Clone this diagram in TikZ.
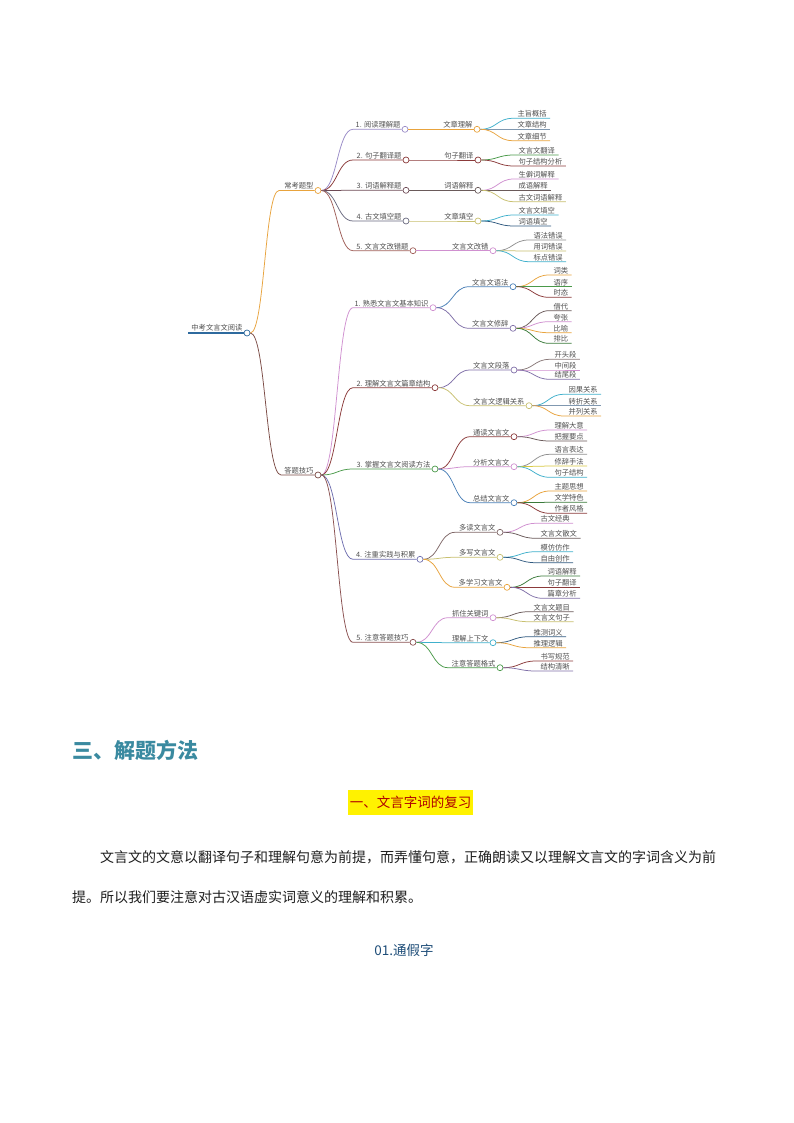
\documentclass[tikz,border=0pt]{standalone}
\usepackage{fontspec}
\newfontfamily\cjk{Noto Sans CJK SC}
\usetikzlibrary{calc}
\definecolor{rootblue}{HTML}{2E6A9E}
\definecolor{corange}{HTML}{E8A33D}
\definecolor{cbrown}{HTML}{7B4B45}
\definecolor{clav}{HTML}{9A8CC8}
\definecolor{cdred}{HTML}{8B3A3A}
\definecolor{cmaroon}{HTML}{6E4A55}
\definecolor{cslate}{HTML}{6A6A80}
\definecolor{crust}{HTML}{A0605A}
\definecolor{cpink}{HTML}{D090D0}
\definecolor{cgreen}{HTML}{4A9A4A}
\definecolor{cpurp}{HTML}{7070B0}
\definecolor{cbrown2}{HTML}{8A5050}
\definecolor{ccyan}{HTML}{40B0CC}
\definecolor{cgblue}{HTML}{8098B0}
\definecolor{colive}{HTML}{C8C070}
\definecolor{cdkblue}{HTML}{305A80}
\definecolor{cgrey}{HTML}{909090}
\definecolor{cblue}{HTML}{4A80B8}
\definecolor{cpurp2}{HTML}{8070A8}
\definecolor{cdkgrey}{HTML}{6A5A5A}
\definecolor{cyellow}{HTML}{D8C840}
\definecolor{cdkgreen}{HTML}{3A7A3A}
\definecolor{ctaupe}{HTML}{8A7A7A}
\definecolor{cgbrown}{HTML}{806868}
\definecolor{mmgray}{HTML}{505050}
\definecolor{titleteal}{HTML}{3A8AA0}
\definecolor{hdred}{HTML}{B00000}
\definecolor{subblue}{HTML}{1F4E79}
\tikzset{
  mmtext/.style={font=\cjk\fontsize{7.3}{8}\selectfont, text=mmgray, inner xsep=0.3pt, inner ysep=0.8pt},
  mmcirc/.style={circle, fill=white, line width=0.7pt, minimum size=6pt, inner sep=0pt},
  mmlink/.style={line width=0.75pt},
  bodytext/.style={font=\cjk\fontsize{14}{16}\selectfont, text=black!88, inner sep=0pt, anchor=west}
}
% inner node: name, parent, start x, y, circle x, colour, text
\newcommand\mmnode[7]{%
  \coordinate (#1-s) at (#3,#4);
  \node[mmcirc, draw=#6] (#1) at (#5,#4) {};
  \draw[mmlink,#6] let \p1=(#2.east), \p2=(#1-s) in
    (\p1) .. controls ({(\x1+\x2)/2},\y1) and ({(\x1+\x2)/2},\y2) .. (\p2) -- (#1.west);
  \node[mmtext, anchor=south east] (#1-t) at ([xshift=-4pt]#1.center) {#7};
}
% leaf: name, parent, start x, y, colour, text
\newcommand\mmleaf[6]{%
  \coordinate (#1-s) at (#3,#4);
  \node[mmtext, anchor=south west] (#1) at (#3+4,#4) {#6};
  \coordinate (#1-e) at ([xshift=3pt]#1.south east);
  \draw[mmlink,#5] let \p1=(#2.east), \p2=(#1-s) in
    (\p1) .. controls ({(\x1+\x2)/2},\y1) and ({(\x1+\x2)/2},\y2) .. (\p2) -- (#1-e);
}
\begin{document}
\begin{tikzpicture}[x=1pt,y=-1pt]
\useasboundingbox (0,0) rectangle (794,1123);
\fill[white] (0,0) rectangle (794,1123);

% root
\node[mmcirc, draw=rootblue] (root) at (247,333) {};
\coordinate (root-s) at (188,333);
\draw[rootblue, line width=2pt] (root-s) -- (root.west);
\node[mmtext, anchor=south east] (root-t) at ([xshift=-4pt,yshift=1pt]root.center) {中考文言文阅读};

% level 1
\mmnode{A}{root}{279}{190.5}{318}{corange}{常考题型}
\mmnode{B}{root}{281}{475}{318}{cbrown}{答题技巧}

% level 2 under A
\mmnode{A1}{A}{353}{129.3}{405}{clav}{1. 阅读理解题}
\mmnode{A2}{A}{353}{160}{406}{cdred}{2. 句子翻译题}
\mmnode{A3}{A}{353}{190.3}{406}{cmaroon}{3. 词语解释题}
\mmnode{A4}{A}{353}{221}{406}{cslate}{4. 古文填空题}
\mmnode{A5}{A}{353}{250.7}{413}{crust}{5. 文言文改错题}

% level 3 under A
\mmnode{A1a}{A1}{440}{129.3}{477}{corange}{文章理解}
\mmnode{A2a}{A2}{440}{160}{478}{cdred}{句子翻译}
\mmnode{A3a}{A3}{440}{190.3}{478}{cdkgrey}{词语解释}
\mmnode{A4a}{A4}{440}{221}{478}{colive}{文章填空}
\mmnode{A5a}{A5}{448}{250.7}{493}{cpink}{文言文改错}

% leaves under A
\mmleaf{A1a1}{A1a}{513}{118.3}{ccyan}{主旨概括}
\mmleaf{A1a2}{A1a}{513}{129.3}{cgblue}{文章结构}
\mmleaf{A1a3}{A1a}{513}{140.7}{corange}{文章细节}
\mmleaf{A2a1}{A2a}{514}{155}{cgreen}{文言文翻译}
\mmleaf{A2a2}{A2a}{514}{166}{cdred}{句子结构分析}
\mmleaf{A3a1}{A3a}{514}{179}{cpink}{生僻词解释}
\mmleaf{A3a2}{A3a}{514}{190.3}{cdkgrey}{成语解释}
\mmleaf{A3a3}{A3a}{514}{201.7}{colive}{古文词语解释}
\mmleaf{A4a1}{A4a}{514}{215}{ccyan}{文言文填空}
\mmleaf{A4a2}{A4a}{514}{226}{cdkblue}{词语填空}
\mmleaf{A5a1}{A5a}{529}{240}{cgrey}{语法错误}
\mmleaf{A5a2}{A5a}{529}{251}{colive}{用词错误}
\mmleaf{A5a3}{A5a}{529}{261.7}{ccyan}{标点错误}

% level 2 under B
\mmnode{B1}{B}{353}{307.7}{433}{cpink}{1. 熟悉文言文基本知识}
\mmnode{B2}{B}{353}{387.7}{435}{cdred}{2. 理解文言文篇章结构}
\mmnode{B3}{B}{353}{469}{435}{cgreen}{3. 掌握文言文阅读方法}
\mmnode{B4}{B}{353}{559.3}{420}{cpurp}{4. 注重实践与积累}
\mmnode{B5}{B}{353}{642.3}{413}{cbrown2}{5. 注意答题技巧}

% level 3 under B
\mmnode{B1a}{B1}{469}{286.7}{513}{cblue}{文言文语法}
\mmnode{B1b}{B1}{469}{328.3}{513}{cpurp2}{文言文修辞}
\mmnode{B2a}{B2}{470}{370}{514}{cpurp2}{文言文段落}
\mmnode{B2b}{B2}{470}{405.7}{529}{colive}{文言文逻辑关系}
\mmnode{B3a}{B3}{470}{436.7}{514}{cdred}{通读文言文}
\mmnode{B3b}{B3}{470}{466.7}{514}{cpink}{分析文言文}
\mmnode{B3c}{B3}{470}{502.7}{514}{cblue}{总结文言文}
\mmnode{B4a}{B4}{455}{532.3}{500}{cgbrown}{多读文言文}
\mmnode{B4b}{B4}{455}{557.3}{500}{colive}{多写文言文}
\mmnode{B4c}{B4}{455}{587.3}{507}{corange}{多学习文言文}
\mmnode{B5a}{B5}{448}{617.7}{493}{cpink}{抓住关键词}
\mmnode{B5b}{B5}{448}{642.7}{493}{ccyan}{理解上下文}
\mmnode{B5c}{B5}{448}{667.7}{500}{cgreen}{注意答题格式}

% leaves under B
\mmleaf{B1a1}{B1a}{549}{275}{corange}{词类}
\mmleaf{B1a2}{B1a}{549}{286.7}{cgreen}{语序}
\mmleaf{B1a3}{B1a}{549}{297.3}{cdred}{时态}
\mmleaf{B1b1}{B1b}{549}{310.7}{cdkgrey}{借代}
\mmleaf{B1b2}{B1b}{549}{321.7}{cpink}{夸张}
\mmleaf{B1b3}{B1b}{549}{332.7}{corange}{比喻}
\mmleaf{B1b4}{B1b}{549}{343.3}{cdkgreen}{排比}
\mmleaf{B2a1}{B2a}{550}{359.3}{ctaupe}{开头段}
\mmleaf{B2a2}{B2a}{550}{370}{cpink}{中间段}
\mmleaf{B2a3}{B2a}{550}{379.3}{cpurp2}{结尾段}
\mmleaf{B2b1}{B2b}{564}{394.3}{ccyan}{因果关系}
\mmleaf{B2b2}{B2b}{564}{405.7}{cgblue}{转折关系}
\mmleaf{B2b3}{B2b}{564}{416}{corange}{并列关系}
\mmleaf{B3a1}{B3a}{550}{430}{cpink}{理解大意}
\mmleaf{B3a2}{B3a}{550}{441}{cdkgrey}{把握要点}
\mmleaf{B3b1}{B3b}{550}{454.3}{cgrey}{语言表达}
\mmleaf{B3b2}{B3b}{550}{466}{cyellow}{修辞手法}
\mmleaf{B3b3}{B3b}{550}{477.3}{ccyan}{句子结构}
\mmleaf{B3c1}{B3c}{550}{491}{corange}{主题思想}
\mmleaf{B3c2}{B3c}{550}{502.3}{cdkgreen}{文学特色}
\mmleaf{B3c3}{B3c}{550}{513.3}{cdred}{作者风格}
\mmleaf{B4a1}{B4a}{536}{523.3}{cpink}{古文经典}
\mmleaf{B4a2}{B4a}{536}{538.3}{cdkgrey}{文言文散文}
\mmleaf{B4b1}{B4b}{536}{551.7}{ccyan}{模仿仿作}
\mmleaf{B4b2}{B4b}{536}{562.7}{cdkblue}{自由创作}
\mmleaf{B4c1}{B4c}{543}{576}{cdkgreen}{词语解释}
\mmleaf{B4c2}{B4c}{543}{587.3}{cdred}{句子翻译}
\mmleaf{B4c3}{B4c}{543}{598.3}{cpurp2}{篇章分析}
\mmleaf{B5a1}{B5a}{529}{611.7}{cdkgrey}{文言文题目}
\mmleaf{B5a2}{B5a}{529}{621.7}{colive}{文言文句子}
\mmleaf{B5b1}{B5b}{529}{636.7}{cdkblue}{推测词义}
\mmleaf{B5b2}{B5b}{529}{647.7}{corange}{推理逻辑}
\mmleaf{B5c1}{B5c}{536}{661}{cdred}{书写规范}
\mmleaf{B5c2}{B5c}{536}{671}{cpurp2}{结构清晰}

% lower text
\node[font=\cjk\bfseries\fontsize{21}{24}\selectfont, text=titleteal, anchor=west, inner sep=0pt] (title) at (72,750) {三、解题方法};
\node[fill=yellow, text=hdred, font=\cjk\fontsize{13.5}{16}\selectfont, minimum width=125pt, minimum height=25pt, inner sep=0pt] (h1) at (410.5,802.5) {一、文言字词的复习};
\node[bodytext] (p1) at (100,857) {文言文的文意以翻译句子和理解句意为前提，而弄懂句意，正确朗读又以理解文言文的字词含义为前};
\node[bodytext] (p2) at (72,897) {提。所以我们要注意对古汉语虚实词意义的理解和积累。};
\node[font=\cjk\fontsize{13.5}{16}\selectfont, text=subblue, inner sep=0pt] (s1) at (404,950) {01.通假字};
\end{tikzpicture}
\end{document}
